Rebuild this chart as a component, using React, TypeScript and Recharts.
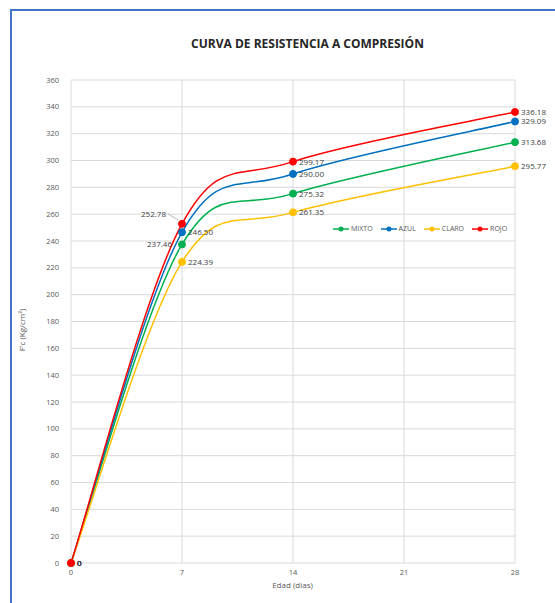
import React from "react";
import {
  CartesianGrid,
  LabelList,
  Legend,
  Line,
  LineChart,
  XAxis,
  YAxis,
} from "recharts";

const edades = [0, 7, 14, 28];
const mixto = [0, 237.46, 275.32, 313.68];
const azul = [0, 246.5, 290.0, 329.09];
const claro = [0, 224.39, 261.35, 295.77];
const rojo = [0, 252.78, 299.17, 336.18];
const xTicks = [0, 7, 14, 21, 28];
const yTicks = [0, 20, 40, 60, 80, 100, 120, 140, 160, 180, 200, 220, 240, 260, 280, 300, 320, 340, 360];

const series = [
  { key: "mixto", name: "MIXTO", color: "#00B050", left: [1] },
  { key: "azul", name: "AZUL", color: "#0070C0", left: [] as number[] },
  { key: "claro", name: "CLARO", color: "#FFC000", left: [] as number[] },
  { key: "rojo", name: "ROJO", color: "#FF0000", left: [1] },
];

const data = edades.map((d, i) => ({
  dias: d,
  mixto: mixto[i],
  azul: azul[i],
  claro: claro[i],
  rojo: rojo[i],
}));

// suavizado tipo Excel (catmull-rom)
const smooth = (context: any) => {
  let pts: number[][] = [];
  return {
    areaStart() {},
    areaEnd() {},
    lineStart() {
      pts = [];
    },
    point(x: number, y: number) {
      pts.push([+x, +y]);
    },
    lineEnd() {
      if (!pts.length) return;
      context.moveTo(pts[0][0], pts[0][1]);
      for (let i = 0; i < pts.length - 1; i++) {
        const p0 = pts[i - 1] || pts[i];
        const p1 = pts[i];
        const p2 = pts[i + 1];
        const p3 = pts[i + 2] || p2;
        context.bezierCurveTo(
          p1[0] + (p2[0] - p0[0]) / 6,
          p1[1] + (p2[1] - p0[1]) / 6,
          p2[0] - (p3[0] - p1[0]) / 6,
          p2[1] - (p3[1] - p1[1]) / 6,
          p2[0],
          p2[1]
        );
      }
    },
  };
};

const fmt = (v: number) => (v === 0 ? "0" : v.toFixed(2));

const makeLabel = (left: number[], leader: boolean) => (props: any) => {
  const { x, y, value, index } = props;
  if (left.includes(index)) {
    if (leader) {
      return (
        <g>
          <line x1={x - 14} y1={y - 10} x2={x - 4} y2={y - 4} stroke="#a6a6a6" strokeWidth={0.8} />
          <text x={x - 16} y={y - 7} textAnchor="end" fontSize={8} fill="#404040">
            {fmt(value)}
          </text>
        </g>
      );
    }
    return (
      <text x={x - 10} y={y + 3} textAnchor="end" fontSize={8} fill="#404040">
        {fmt(value)}
      </text>
    );
  }
  return (
    <text x={x + 6} y={y + 3} fontSize={8} fill="#404040">
      {fmt(value)}
    </text>
  );
};

const LegendContent = () => (
  <div style={{ display: "flex", gap: 8, fontSize: 7, color: "#595959", fontFamily: "Open Sans, sans-serif" }}>
    {series.map((s) => (
      <div key={s.key} style={{ display: "flex", alignItems: "center", gap: 2 }}>
        <svg width={16} height={8}>
          <line x1={0} y1={4} x2={16} y2={4} stroke={s.color} strokeWidth={1.5} />
          <circle cx={8} cy={4} r={2.5} fill={s.color} />
        </svg>
        <span>{s.name}</span>
      </div>
    ))}
  </div>
);

export default function App() {
  return (
    <div style={{ position: "absolute", left: 0, top: 0, width: 555, height: 603, background: "#fff", fontFamily: "Open Sans, sans-serif" }}>
      <div
        style={{
          position: "absolute",
          left: 10,
          top: 9,
          width: 545,
          height: 594,
          borderLeft: "2px solid #4472C4",
          borderTop: "2px solid #4472C4",
          boxSizing: "border-box",
        }}
      />
      <div
        style={{
          position: "absolute",
          top: 35,
          left: 0,
          width: 555,
          paddingLeft: 60,
          boxSizing: "border-box",
          textAlign: "center",
          fontSize: 12,
          fontWeight: 700,
          color: "#262626",
        }}
      >
        CURVA DE RESISTENCIA A COMPRESIÓN
      </div>
      <LineChart
        width={555}
        height={603}
        data={data}
        margin={{ top: 80, right: 40, bottom: 20, left: 41 }}
        style={{ position: "absolute", left: 0, top: 0 }}
      >
        <CartesianGrid stroke="#d9d9d9" strokeWidth={1} />
        <XAxis
          dataKey="dias"
          type="number"
          domain={[0, 28]}
          ticks={xTicks}
          interval={0}
          axisLine={false}
          tickLine={false}
          height={20}
          tick={{ fontSize: 7.5, fill: "#595959" }}
          tickMargin={1}
        />
        <YAxis
          type="number"
          domain={[0, 360]}
          ticks={yTicks}
          interval={0}
          axisLine={false}
          tickLine={false}
          width={30}
          tick={{ fontSize: 7.5, fill: "#595959" }}
          tickMargin={6}
        />
        <Legend
          verticalAlign="middle"
          align="center"
          layout="horizontal"
          content={<LegendContent />}
          wrapperStyle={{ position: "absolute", left: 333, top: 224, width: 185 }}
        />
        {series.map((s) => (
          <Line
            key={s.key}
            dataKey={s.key}
            name={s.name}
            type={smooth as any}
            stroke={s.color}
            strokeWidth={1.5}
            dot={{ r: 3.5, fill: s.color, stroke: s.color, strokeWidth: 1 }}
            isAnimationActive={false}
          >
            <LabelList dataKey={s.key} content={makeLabel(s.left, s.key === "rojo")} />
          </Line>
        ))}
      </LineChart>
      <div style={{ position: "absolute", top: 579, left: 0, width: 555, paddingLeft: 30, boxSizing: "border-box", textAlign: "center", fontSize: 8, color: "#595959" }}>
        Edad (dias)
      </div>
      <div
        style={{
          position: "absolute",
          left: 21,
          top: 330,
          transform: "translate(-50%, -50%) rotate(-90deg)",
          fontSize: 8,
          color: "#595959",
          whiteSpace: "nowrap",
        }}
      >
        F'c (Kg/cm²)
      </div>
    </div>
  );
}
